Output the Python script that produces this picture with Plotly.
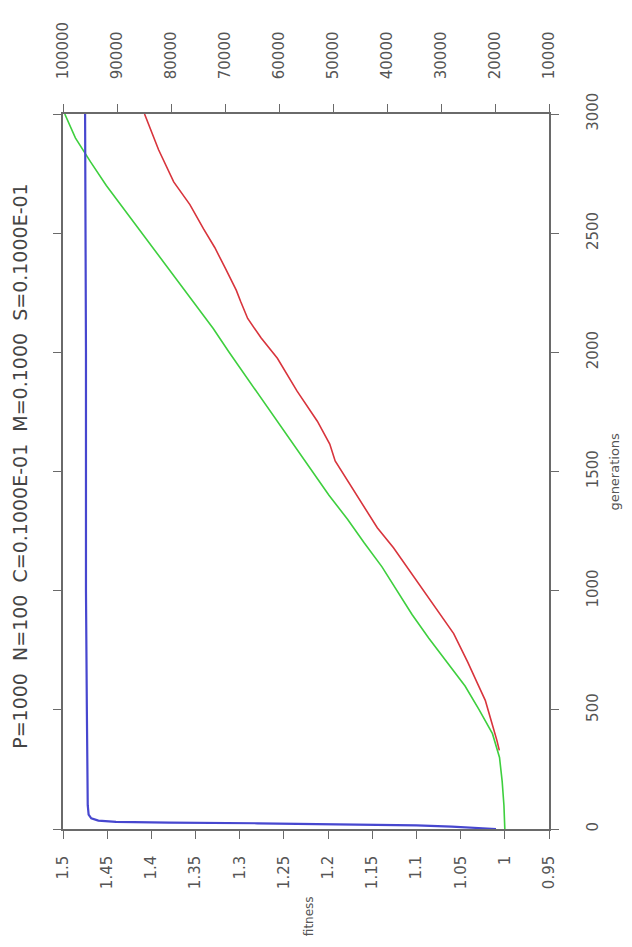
import plotly.graph_objects as go

# ---- data ----
gen_green = [0, 100, 200, 300, 400, 500, 600, 700, 800, 900, 1000, 1100, 1200, 1300, 1400,
             1500, 1600, 1700, 1800, 1900, 2000, 2100, 2200, 2300, 2400, 2500, 2600, 2700,
             2800, 2900, 3000]
fit_green = [1.000, 1.001, 1.003, 1.006, 1.014, 1.029, 1.045, 1.066, 1.086, 1.105, 1.122,
             1.139, 1.159, 1.178, 1.199, 1.218, 1.236, 1.255, 1.275, 1.293, 1.312, 1.330,
             1.350, 1.370, 1.390, 1.411, 1.430, 1.451, 1.469, 1.486, 1.498]

gen_red = [330, 372, 450, 540, 611, 700, 820, 958, 1096, 1180, 1264, 1400, 1470, 1544, 1615,
           1711, 1837, 1975, 2060, 2142, 2213, 2260, 2351, 2440, 2519, 2620, 2715, 2850, 3000]
val_red = [19200, 19650, 20650, 21800, 23250, 25050, 27650, 31900, 36200, 38800, 41800,
           45650, 47500, 49600, 50600, 52900, 56650, 60300, 63300, 65800, 67100, 67900,
           69900, 71900, 74000, 76500, 79500, 82300, 84900]

gen_blue = [0, 5, 10, 15, 20, 24, 27, 30, 35, 45, 60, 100, 500, 1000, 2000, 3000]
fit_blue = [1.01, 1.03, 1.06, 1.10, 1.18, 1.28, 1.38, 1.44, 1.46, 1.468, 1.471, 1.472,
            1.473, 1.474, 1.474, 1.475]

fit_ticks = [1.5, 1.45, 1.4, 1.35, 1.3, 1.25, 1.2, 1.15, 1.1, 1.05, 1.0, 0.95]
fit_labels = ["1.5", "1.45", "1.4", "1.35", "1.3", "1.25", "1.2", "1.15", "1.1", "1.05", "1", "0.95"]
sec_ticks = [100000, 90000, 80000, 70000, 60000, 50000, 40000, 30000, 20000, 10000]
sec_labels = [str(v) for v in sec_ticks]
gen_ticks = [0, 500, 1000, 1500, 2000, 2500, 3000]
gen_labels = [str(v) for v in gen_ticks]

title_text = "P=1000  N=100  C=0.1000E-01  M=0.1000  S=0.1000E-01"

# ---- figure ----
fig = go.Figure()
fig.add_trace(go.Scatter(x=fit_green, y=gen_green, mode="lines", xaxis="x", yaxis="y",
                         line=dict(color="#3ecf3e", width=1.6), showlegend=False))
fig.add_trace(go.Scatter(x=val_red, y=gen_red, mode="lines", xaxis="x2", yaxis="y",
                         line=dict(color="#d8343c", width=1.6), showlegend=False))
fig.add_trace(go.Scatter(x=fit_blue, y=gen_blue, mode="lines", xaxis="x", yaxis="y",
                         line=dict(color="#4747cf", width=2.2), showlegend=False))

axis_font = dict(family="DejaVu Sans", size=15, color="#555555")
common = dict(showgrid=False, zeroline=False, showline=True, linecolor="#6a6a6a",
              linewidth=1.5, ticks="outside", ticklen=8, tickcolor="#6a6a6a",
              tickfont=axis_font, tickangle=-90)

# the page body keeps its default 8px margin, so the figure is sized to fit inside it
fig.update_layout(
    width=616, height=931,
    margin=dict(l=55, r=75, t=106, b=110),
    paper_bgcolor="white", plot_bgcolor="white",
    xaxis=dict(range=[1.5, 0.95], tickvals=fit_ticks, ticktext=fit_labels,
               side="bottom", ticklabelstandoff=11, **common),
    xaxis2=dict(range=[100000, 10000], tickvals=sec_ticks, ticktext=sec_labels,
                side="top", overlaying="x", anchor="y", ticklabelstandoff=22, **common),
    yaxis=dict(range=[0, 3000], tickvals=gen_ticks, ticktext=gen_labels, side="right",
               mirror="ticks", ticklabelstandoff=21, **common),
    annotations=[
        dict(text=title_text, xref="paper", yref="paper", x=-0.0885, y=0.508,
             textangle=-90, showarrow=False, xanchor="center", yanchor="middle",
             font=dict(family="DejaVu Sans", size=19, color="#444444")),
        dict(text="fitness", xref="paper", yref="paper", x=0.506, y=-0.122,
             textangle=-90, showarrow=False, xanchor="center", yanchor="middle",
             font=dict(family="DejaVu Sans", size=12, color="#555555")),
        dict(text="generations", xref="paper", yref="paper", x=1.134, y=0.5,
             textangle=-90, showarrow=False, xanchor="center", yanchor="middle",
             font=dict(family="DejaVu Sans", size=13, color="#555555")),
    ],
)

fig.write_html("out.html")
